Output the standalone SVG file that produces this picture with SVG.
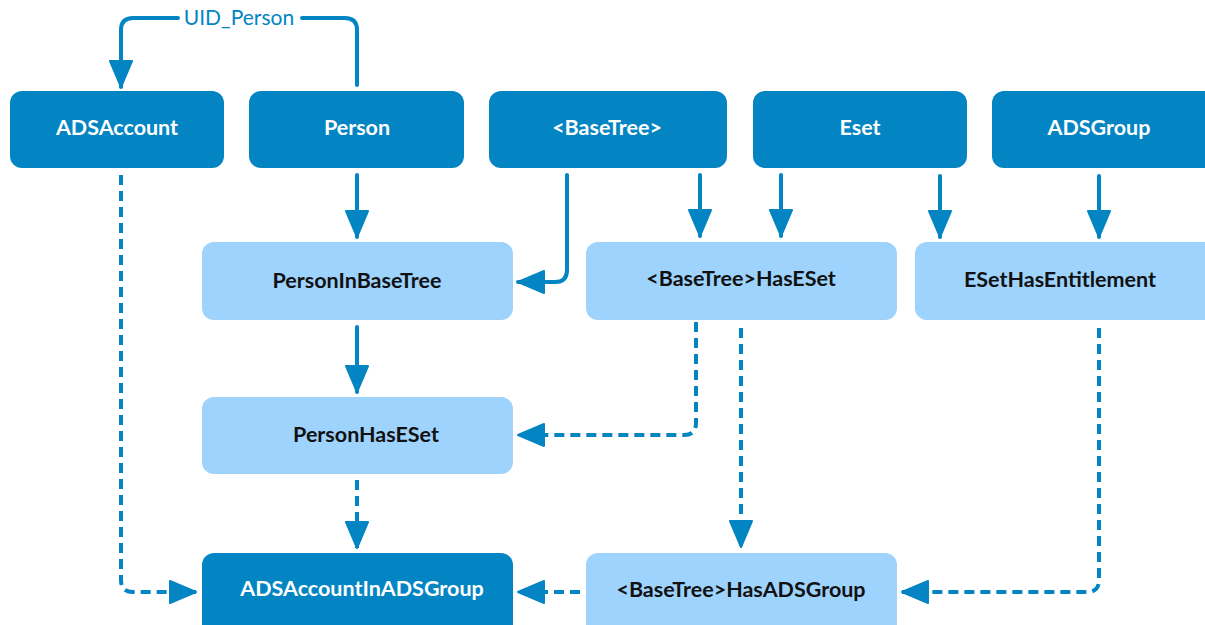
<svg xmlns="http://www.w3.org/2000/svg" width="1205" height="625" viewBox="0 0 1205 625">
<style>
.dark{fill:#0385C3}
.light{fill:#9DD3FD}
.t{font-family:Lato,"Liberation Sans",sans-serif;font-size:21.5px;font-weight:700;text-anchor:middle}
.tw{fill:#ffffff}
.tb{fill:#111111}
.c{fill:none;stroke:#0385C3;stroke-width:4;stroke-linecap:round;stroke-linejoin:round}
.d{stroke-dasharray:10 6;stroke-linecap:butt}
.lbl{font-family:Lato,"Liberation Sans",sans-serif;font-size:21px;fill:#0385C3;text-anchor:middle}
</style>
<defs>
<marker id="ah" markerUnits="userSpaceOnUse" markerWidth="30" markerHeight="26" viewBox="0 0 30 26" refX="28" refY="13" orient="auto">
<path d="M2,2 L28,13 L2,24 Z" fill="#0385C3" stroke="#0385C3" stroke-width="2" stroke-linejoin="round"/>
</marker>
</defs>
<rect width="1205" height="625" fill="#ffffff"/>
<g id="connectors">
<path class="c" d="M357,85 V30 Q357,18 345,18 H302"/>
<path class="c" d="M178,18 H133 Q121,18 121,30 V87" marker-end="url(#ah)"/>
<text class="lbl" x="239" y="25">UID_Person</text>
<path class="c" d="M357,175 V237" marker-end="url(#ah)"/>
<path class="c" d="M357,327 V392" marker-end="url(#ah)"/>
<path class="c" d="M567,175 V270 Q567,282 555,282 H518" marker-end="url(#ah)"/>
<path class="c" d="M700,175 V236" marker-end="url(#ah)"/>
<path class="c" d="M781,175 V236" marker-end="url(#ah)"/>
<path class="c" d="M940,176 V237" marker-end="url(#ah)"/>
<path class="c" d="M1099,176 V237" marker-end="url(#ah)"/>
<path class="c d" d="M121,175 V580 Q121,592 133,592 H196" marker-end="url(#ah)"/>
<path class="c d" d="M357,480 V548" marker-end="url(#ah)"/>
<path class="c d" d="M696,322 V423 Q696,435 684,435 H518" marker-end="url(#ah)"/>
<path class="c d" d="M741,328 V547" marker-end="url(#ah)"/>
<path class="c d" d="M1099,328 V580 Q1099,592 1087,592 H902" marker-end="url(#ah)"/>
<path class="c d" d="M580,592 H518" marker-end="url(#ah)"/>
</g>
<g id="ADSAccount"><rect class="dark" x="10" y="91" width="214" height="77" rx="12"/><text class="t tw" x="117" y="135">ADSAccount</text></g>
<g id="Person"><rect class="dark" x="249" y="91" width="215" height="77" rx="12"/><text class="t tw" x="357" y="135">Person</text></g>
<g id="BaseTree"><rect class="dark" x="489" y="91" width="238" height="77" rx="12"/><text class="t tw" x="607" y="135">&lt;BaseTree&gt;</text></g>
<g id="Eset"><rect class="dark" x="753" y="91" width="214" height="77" rx="12"/><text class="t tw" x="860" y="135">Eset</text></g>
<g id="ADSGroup"><rect class="dark" x="992" y="91" width="225" height="77" rx="12"/><text class="t tw" x="1099" y="135">ADSGroup</text></g>
<g id="PersonInBaseTree"><rect class="light" x="202" y="242" width="311" height="78" rx="12"/><text class="t tb" x="357" y="288">PersonInBaseTree</text></g>
<g id="BaseTreeHasESet"><rect class="light" x="586" y="242" width="311" height="78" rx="12"/><text class="t tb" x="741" y="286">&lt;BaseTree&gt;HasESet</text></g>
<g id="ESetHasEntitlement"><rect class="light" x="915" y="242" width="302" height="78" rx="12"/><text class="t tb" x="1060" y="287">ESetHasEntitlement</text></g>
<g id="PersonHasESet"><rect class="light" x="202" y="397" width="311" height="77" rx="12"/><text class="t tb" x="366" y="442">PersonHasESet</text></g>
<g id="ADSAccountInADSGroup"><rect class="dark" x="202" y="553" width="311" height="90" rx="12"/><text class="t tw" x="362" y="596">ADSAccountInADSGroup</text></g>
<g id="BaseTreeHasADSGroup"><rect class="light" x="586" y="553" width="311" height="90" rx="12"/><text class="t tb" x="741" y="597">&lt;BaseTree&gt;HasADSGroup</text></g>
</svg>
